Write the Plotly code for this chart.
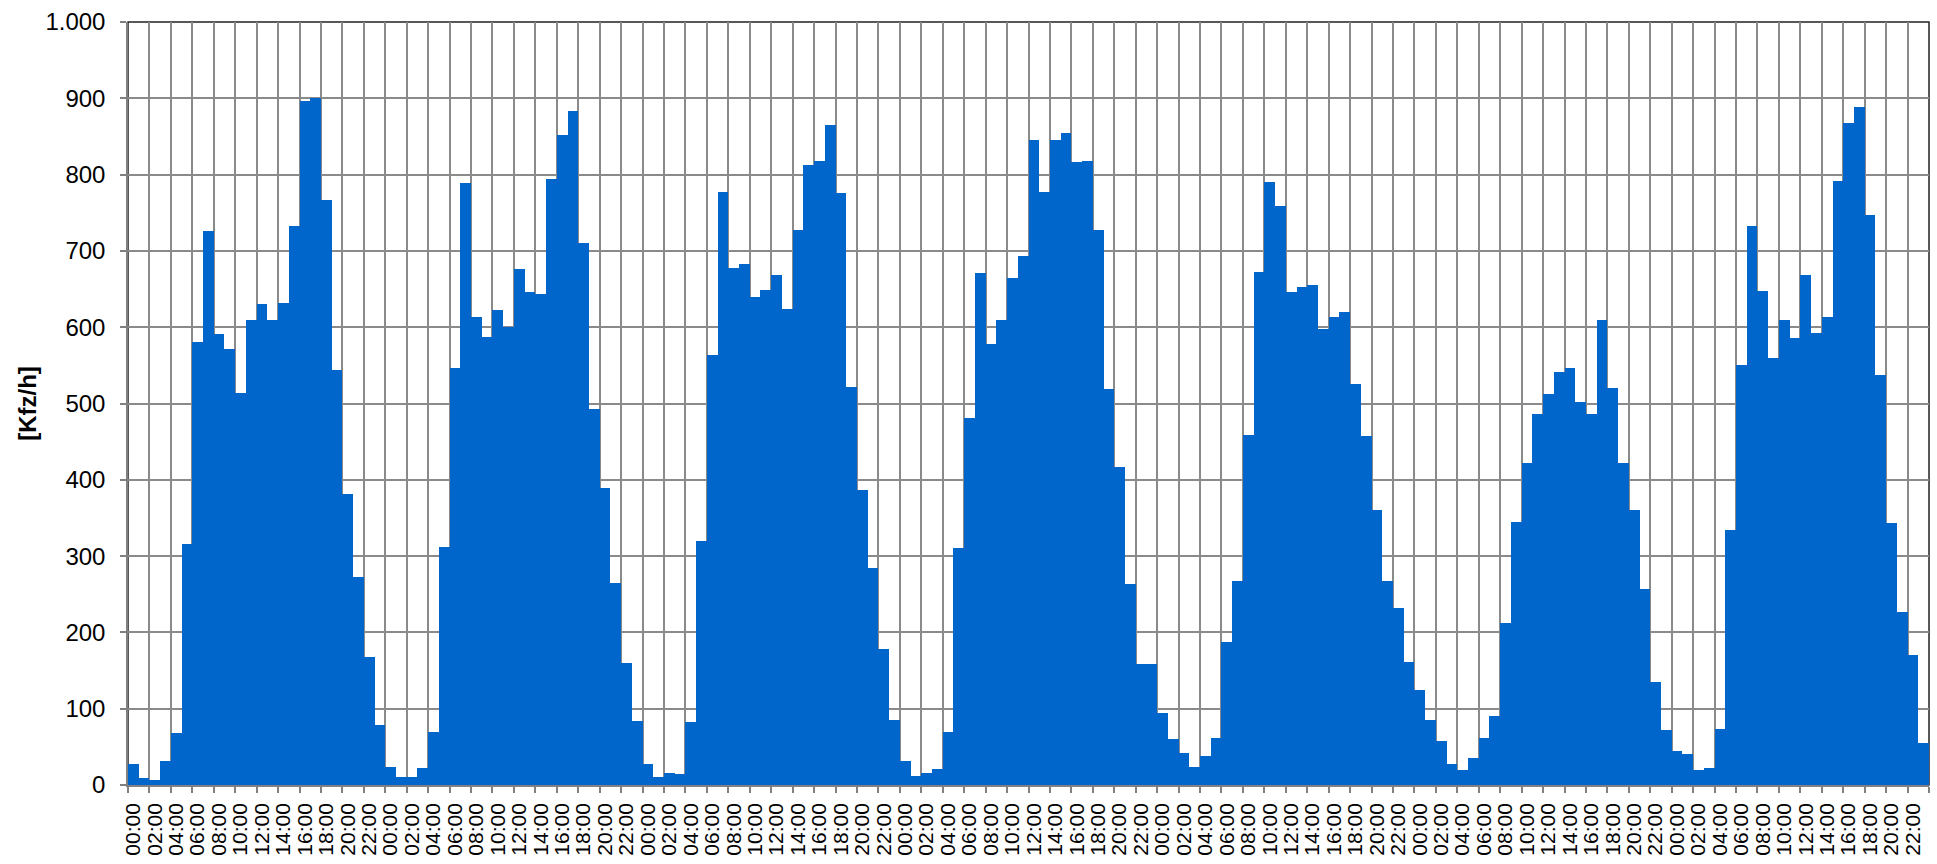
import plotly.graph_objects as go

# hourly traffic volumes [Kfz/h], 7 days x 24 h
day1 = [28, 9, 7, 32, 68, 316, 580, 726, 591, 571, 514, 609, 631, 609, 632, 732, 896, 901, 767, 544, 381, 273, 168, 78]
day2 = [24, 10, 10, 22, 70, 312, 547, 789, 613, 587, 622, 600, 676, 646, 644, 794, 852, 883, 710, 493, 389, 265, 160, 84]
day3 = [27, 10, 16, 15, 83, 320, 563, 777, 678, 683, 640, 649, 668, 624, 728, 813, 818, 865, 776, 522, 386, 285, 178, 85]
day4 = [31, 12, 16, 21, 70, 310, 481, 671, 578, 609, 664, 693, 845, 777, 845, 855, 817, 818, 727, 519, 417, 264, 158, 158]
day5 = [94, 60, 42, 24, 38, 62, 188, 268, 459, 673, 790, 759, 646, 653, 655, 598, 614, 620, 525, 458, 360, 267, 232, 161]
day6 = [124, 85, 58, 27, 20, 36, 62, 90, 212, 345, 422, 486, 512, 541, 547, 502, 486, 609, 520, 422, 360, 257, 135, 72]
day7 = [45, 40, 20, 22, 73, 334, 550, 732, 647, 559, 610, 586, 668, 593, 614, 792, 867, 888, 747, 538, 344, 227, 170, 55]

hours = ["%02d:00" % h for h in range(24)]
values = day1 + day2 + day3 + day4 + day5 + day6 + day7
labels = hours * 7
idx = list(range(len(values)))

y_ticks = list(range(0, 1001, 100))

fig = go.Figure()
fig.add_trace(go.Bar(
    x=idx, y=values, width=1,
    marker=dict(color="#0066CC", line=dict(width=0)),
    showlegend=False,
))

label_pos = idx[::2]
label_txt = labels[::2]
boundaries = [i - 0.5 for i in range(0, len(values) + 1, 2)]

font_family = "Liberation Sans, Arial, sans-serif"

fig.update_layout(
    width=1937, height=864,
    margin=dict(l=128, r=8, t=20, b=78),
    paper_bgcolor="white", plot_bgcolor="white",
    separators=",.",
    bargap=0,
    font=dict(family=font_family, size=21, color="black"),
    xaxis=dict(
        range=[-0.5, len(values) - 0.5],
        tickmode="array", tickvals=label_pos, ticktext=label_txt,
        tickangle=-90, ticks="", showgrid=False,
        tickfont=dict(size=21, family=font_family, color="black"),
        ticklabelstandoff=8,
        ticklabeloverflow="allow",
        showline=True, linecolor="#808080", linewidth=1.5,
        minor=dict(tickmode="array", tickvals=boundaries, ticks="outside",
                   ticklen=6, tickcolor="#808080", tickwidth=1.5,
                   showgrid=True, gridcolor="#8a8a8a", gridwidth=1.5),
        zeroline=False,
    ),
    yaxis=dict(
        range=[0, 1000], tickmode="array", tickvals=y_ticks,
        tickformat=",d",
        ticks="outside", ticklen=6, tickcolor="#808080", tickwidth=1.5,
        showgrid=True, gridcolor="#8a8a8a", gridwidth=1.5,
        showline=True, linecolor="#808080", linewidth=1.5,
        tickfont=dict(size=24, family=font_family, color="black"),
        ticklabelstandoff=10,
        ticklabeloverflow="allow",
        zeroline=False,
        title=dict(text="<b>[Kfz/h]</b>", font=dict(size=24, family=font_family, color="black"), standoff=2),
    ),
    shapes=[dict(type="rect", xref="x domain", yref="y domain", x0=0, x1=1, y0=0, y1=1,
                 line=dict(color="#222222", width=1.5), layer="below")],
)

fig.write_html(
    "out.html",
    config={"displayModeBar": False},
    post_script="document.body.style.margin='0';document.body.style.overflow='hidden';",
)
